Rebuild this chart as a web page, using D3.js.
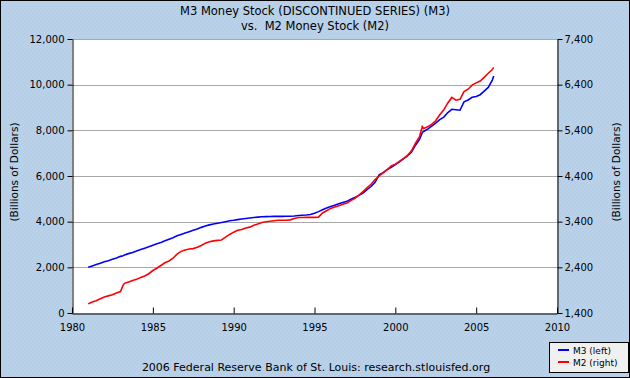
<!DOCTYPE html>
<html><head><meta charset="utf-8">
<script src="https://cdn.jsdelivr.net/npm/d3@7"></script>
<style>
html,body{margin:0;padding:0;background:#fff;}
svg{display:block;}
text{font-family:"DejaVu Sans",Verdana,sans-serif;white-space:pre;}
</style></head>
<body>
<svg id="c" width="630" height="378"></svg>
<script>
const titleLines = ["M3 Money Stock (DISCONTINUED SERIES) (M3)", "vs.  M2 Money Stock (M2)"];
const yAxisLabel = "(Billions of Dollars)";
const footer = "2006 Federal Reserve Bank of St. Louis: research.stlouisfed.org";
const xTicks = [1980, 1985, 1990, 1995, 2000, 2005, 2010];
const leftTicks = [0, 2000, 4000, 6000, 8000, 10000, 12000];
const rightTicks = [1400, 2400, 3400, 4400, 5400, 6400, 7400];
const seriesNames = ["M3 (left)", "M2 (right)"];

const dates = [
 "1981-01","1981-04","1981-07","1981-10","1982-01","1982-04","1982-07","1982-10",
 "1983-01","1983-03","1983-04","1983-07","1983-10","1984-01","1984-04","1984-07","1984-10",
 "1985-01","1985-04","1985-07","1985-10","1986-01","1986-04","1986-07","1986-10",
 "1987-01","1987-04","1987-07","1987-10","1988-01","1988-04","1988-07","1988-10",
 "1989-01","1989-04","1989-07","1989-10","1990-01","1990-04","1990-07","1990-10",
 "1991-01","1991-04","1991-07","1991-10","1992-01","1992-04","1992-07","1992-10",
 "1993-01","1993-04","1993-07","1993-10","1994-01","1994-04","1994-07","1994-10",
 "1995-01","1995-04","1995-07","1995-10","1996-01","1996-04","1996-07","1996-10",
 "1997-01","1997-04","1997-07","1997-10","1998-01","1998-04","1998-07","1998-10",
 "1999-01","1999-04","1999-07","1999-10","2000-01","2000-04","2000-07","2000-10",
 "2001-01","2001-04","2001-07","2001-09","2001-10","2002-01","2002-04","2002-07","2002-10",
 "2003-01","2003-04","2003-07","2003-10","2004-01","2004-04","2004-07","2004-10",
 "2005-01","2005-04","2005-07","2005-10","2006-01","2006-02"
];
const m3 = [
 2000,2060,2120,2180,2240,2290,2350,2410,
 2480,2510,2540,2600,2650,2720,2780,2840,2900,
 2970,3030,3090,3160,3230,3300,3380,3440,
 3500,3560,3620,3680,3750,3810,3860,3900,
 3930,3960,4000,4040,4060,4090,4120,4140,
 4160,4180,4200,4215,4220,4225,4230,4235,
 4230,4235,4240,4250,4270,4280,4290,4310,
 4370,4440,4520,4600,4660,4720,4780,4840,
 4890,4980,5060,5150,5250,5400,5540,5720,
 6050,6150,6280,6380,6500,6620,6750,6880,
 7050,7350,7600,7900,7950,8050,8180,8320,8470,
 8580,8780,8920,8900,8880,9250,9330,9450,
 9480,9560,9720,9880,10200,10380
];
const m2 = [
 1600,1640,1670,1710,1750,1775,1800,1840,
 1870,2010,2050,2080,2110,2140,2180,2210,2260,
 2330,2380,2440,2500,2540,2600,2690,2750,
 2780,2800,2810,2840,2880,2930,2960,2980,
 2990,3000,3060,3120,3170,3210,3230,3260,
 3280,3320,3350,3380,3400,3410,3420,3430,
 3430,3430,3440,3470,3490,3490,3495,3495,
 3495,3500,3590,3640,3690,3720,3750,3780,
 3810,3860,3910,3980,4060,4140,4220,4320,
 4400,4470,4540,4620,4660,4720,4780,4850,
 4950,5120,5260,5480,5440,5480,5530,5610,5740,
 5850,6000,6120,6060,6080,6250,6300,6390,
 6440,6480,6560,6650,6730,6780
];

const svg = d3.select("#c");
const W = 630, H = 378;
const L = 72, R = 557, T = 39, B = 313;

const defs = svg.append("defs");
const pat = defs.append("pattern").attr("id","hatch").attr("patternUnits","userSpaceOnUse")
  .attr("width",4).attr("height",4);
pat.append("rect").attr("width",4).attr("height",4).attr("fill","#b6cfe7");
pat.append("path").attr("d","M-1,1 l2,-2 M0,4 l4,-4 M3,5 l2,-2").attr("stroke","#bdd4ea").attr("stroke-width",1);
svg.append("rect").attr("x",0.5).attr("y",0.5).attr("width",W-1).attr("height",H-1)
  .attr("fill","url(#hatch)").attr("stroke","#000");

const parse = d3.timeParse("%Y-%m");
const x = d3.scaleTime().domain([new Date(1980,0,1), new Date(2010,0,1)]).range([L, R]);
const yL = d3.scaleLinear().domain([0, 12000]).range([B, T]);
const yR = d3.scaleLinear().domain([1400, 7400]).range([B, T]);

svg.append("rect").attr("x",L).attr("y",T).attr("width",R-L).attr("height",B-T).attr("fill","#fff");

svg.append("g").selectAll("line").data(leftTicks.slice(1)).join("line")
  .attr("x1",L).attr("x2",R).attr("y1",d=>Math.round(yL(d))+0.5).attr("y2",d=>Math.round(yL(d))+0.5)
  .attr("stroke","#a8a8a8").attr("stroke-width",1);

const fmt = d3.format(",");
const gl = svg.append("g").attr("transform",`translate(${L+0.5},0)`)
  .call(d3.axisLeft(yL).tickValues(leftTicks).tickFormat(fmt).tickSize(5).tickSizeOuter(0));
const gr = svg.append("g").attr("transform",`translate(${R+0.5},0)`)
  .call(d3.axisRight(yR).tickValues(rightTicks).tickFormat(fmt).tickSize(5).tickSizeOuter(0));
const gb = svg.append("g").attr("transform",`translate(0,${B+0.5})`)
  .call(d3.axisBottom(x).tickValues(xTicks.map(y=>new Date(y,0,1))).tickFormat(d3.timeFormat("%Y")).tickSize(-6).tickSizeOuter(0));
gb.selectAll(".tick text").attr("dy","0").attr("y",17);
[gl,gr,gb].forEach(g=>{
  g.selectAll("text").attr("font-size",10).attr("fill","#000").attr("font-family","DejaVu Sans, Verdana, sans-serif");
  g.selectAll("path,line").attr("stroke","#000");
});
gl.selectAll(".tick text").attr("x",-8);
gr.selectAll(".tick text").attr("x",7);

const rows = dates.map((d,i)=>({date:parse(d), m3:m3[i], m2:m2[i]}));
svg.append("path").datum(rows).attr("fill","none").attr("stroke","#0000ff").attr("stroke-width",1.6)
  .attr("d", d3.line().x(d=>x(d.date)).y(d=>yL(d.m3)));
svg.append("path").datum(rows).attr("fill","none").attr("stroke","#ff0000").attr("stroke-width",1.6)
  .attr("d", d3.line().x(d=>x(d.date)).y(d=>yR(d.m2)));

svg.append("g").selectAll("text").data(titleLines).join("text")
  .attr("x",315).attr("y",(d,i)=>15+i*15).attr("text-anchor","middle").attr("font-size",11.5)
  .attr("xml:space","preserve").text(d=>d);

svg.append("text").attr("transform","translate(18,172) rotate(-90)").attr("text-anchor","middle")
  .attr("font-size",10.5).text(yAxisLabel);
svg.append("text").attr("transform","translate(620,172) rotate(-90)").attr("text-anchor","middle")
  .attr("font-size",10.5).text(yAxisLabel);

svg.append("text").attr("x",316).attr("y",371).attr("text-anchor","middle").attr("font-size",11).text(footer);

const lg = svg.append("g");
lg.append("rect").attr("x",549.5).attr("y",342.5).attr("width",79).attr("height",30)
  .attr("fill","#f0f0f0").attr("stroke","#000");
const colors = ["#0000ff","#ff0000"];
seriesNames.forEach((n,i)=>{
  const yy = 350 + i*12;
  lg.append("line").attr("x1",558).attr("x2",569).attr("y1",yy).attr("y2",yy)
    .attr("stroke",colors[i]).attr("stroke-width",2);
  lg.append("text").attr("x",573).attr("y",yy+3.5).attr("font-size",9).text(n);
});
</script>
</body></html>
